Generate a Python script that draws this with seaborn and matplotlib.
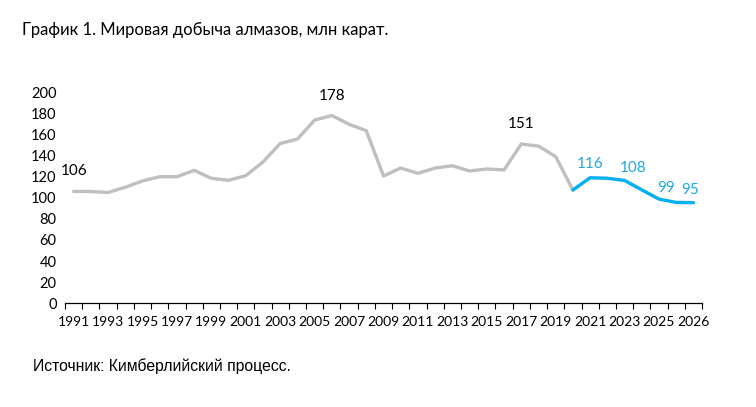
import pandas as pd
import seaborn as sns
import matplotlib.pyplot as plt
import matplotlib.ticker as ticker

# world diamond output, mln carats
hist_pos = list(range(0, 30))   # 1991..2020
hist_vals = [106, 106, 105, 110, 116, 120, 120, 126, 118.5, 116.6,
             121, 134, 151.5, 155.7, 173.7, 178, 169.7, 163.6, 120.7, 128.2,
             123.2, 128.2, 130.4, 125.4, 127.3, 126.4, 151, 149, 139, 107.4]
fc_pos = list(range(29, 37))    # forecast part
fc_vals = [107.4, 119, 118.5, 116.5, 107.5, 98.8, 95.6, 95.4]

tick_pos = list(range(0, 37, 2))
tick_labels = [str(y) for y in range(1991, 2026, 2)] + ['2026']

hist_lbl_pos = [0, 15, 26]
hist_lbl_txt = ['106', '178', '151']
fc_lbl_pos = [30, 33, 34, 36]
fc_lbl_txt = ['116', '108', '99', '95']

GREY = '#BFBFBF'
BLUE = '#00B0F0'
BLUE_TXT = '#1FA8E0'

sns.set_theme(style='white')
plt.rcParams['font.family'] = ['Lato', 'DejaVu Sans']

hist = pd.DataFrame({'pos': hist_pos, 'val': hist_vals})
fc = pd.DataFrame({'pos': fc_pos, 'val': fc_vals})

fig = plt.figure(figsize=(7.56, 4.07), dpi=100)
ax = fig.add_axes([0.086, 0.2548, 0.8426, 0.5184])

sns.lineplot(data=hist, x='pos', y='val', color=GREY, linewidth=2.4, ax=ax)
sns.lineplot(data=fc, x='pos', y='val', color=BLUE, linewidth=2.4, ax=ax)

ax.set_xlim(-0.5, 36.5)
ax.set_ylim(0, 200)
ax.set_xlabel('')
ax.set_ylabel('')

# labels sit under category centres, small ticks between categories
ax.set_xticks(tick_pos)
ax.set_xticklabels(tick_labels)
ax.xaxis.set_minor_locator(ticker.FixedLocator([p - 0.5 for p in range(0, 38)]))
ax.tick_params(axis='x', which='major', length=0, pad=9, labelsize=10, colors='black')
ax.tick_params(axis='x', which='minor', bottom=True, length=4, width=0.8, color='black')
ax.yaxis.set_major_locator(ticker.MultipleLocator(20))
ax.tick_params(axis='y', length=0, pad=6, labelsize=10.5, colors='black')

for s in ['top', 'right', 'left']:
    ax.spines[s].set_visible(False)
ax.spines['bottom'].set_color('black')
ax.spines['bottom'].set_linewidth(0.9)

for p, t in zip(hist_lbl_pos, hist_lbl_txt):
    ax.annotate(t, (p, hist_vals[p]), xytext=(0, 20), textcoords='offset pixels',
                ha='center', va='center', fontsize=11, color='black')

fc_dx = [0, -9, 7, -3]
fc_dy = [14, 22, 11, 13]
for p, t, dx, dy in zip(fc_lbl_pos, fc_lbl_txt, fc_dx, fc_dy):
    ax.annotate(t, (p, fc_vals[p - 29]), xytext=(dx, dy), textcoords='offset pixels',
                ha='center', va='center', fontsize=11, color=BLUE_TXT)

fig.text(22 / 756, 1 - 30 / 407, 'График 1. Мировая добыча алмазов, млн карат.',
         ha='left', va='center', fontsize=12, color='black')
fig.text(33 / 756, 1 - 366 / 407, 'Источник: Кимберлийский процесс.',
         ha='left', va='center', fontsize=11.3, color='black',
         family=['Liberation Sans', 'DejaVu Sans'])

fig.savefig('out.png', dpi=100)
